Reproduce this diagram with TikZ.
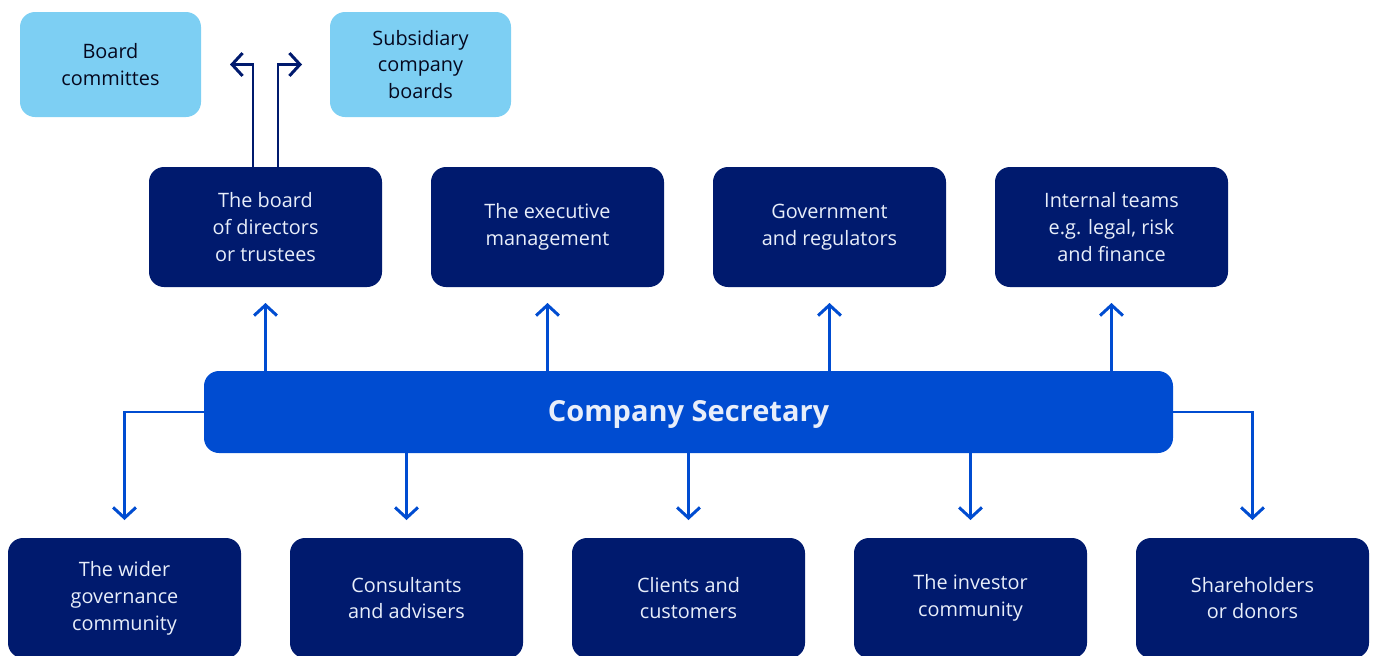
\documentclass[tikz,border=0pt]{standalone}
\usepackage{fontspec}
\setmainfont{Open Sans}
\usepackage{xcolor}
\usepackage{tikz}
\usetikzlibrary{arrows.meta, positioning}
\definecolor{navy}{RGB}{0,26,110}
\definecolor{secblue}{RGB}{0,76,209}
\definecolor{skyblue}{RGB}{125,207,243}
\definecolor{paletext}{RGB}{232,238,250}
\definecolor{inktext}{RGB}{5,8,30}
\tikzstyle{party} = [rectangle, rounded corners=0.3cm, fill=navy, text=paletext, text centered, align=center, outer sep=0pt, minimum width=4.66cm, minimum height=2.4cm, font=\fontsize{11.3}{15.3}\selectfont]
\tikzstyle{sub} = [rectangle, rounded corners=0.3cm, fill=skyblue, text=inktext, text centered, align=center, outer sep=0pt, minimum width=3.62cm, minimum height=2.1cm, font=\fontsize{11.3}{15.3}\selectfont]
\tikzstyle{secretary} = [rectangle, rounded corners=0.3cm, fill=secblue, text=paletext, outer sep=0pt, minimum width=19.38cm, minimum height=1.64cm, text depth=0.05cm, font=\fontsize{16.5}{18}\selectfont\bfseries]
\tikzstyle{arrow} = [line width=1.7pt, secblue, -{Straight Barb[length=6pt,width=13pt]}]
\tikzstyle{boardarrow} = [arrow, navy]

\begin{document}
\begin{tikzpicture}[node distance=0.98cm]
        \useasboundingbox (0,0) rectangle (27.5,-13.1);

        % Nodes - the secretary in the middle
        \node (sec) [secretary] at (13.77,-8.24) {Company Secretary};

        % Top row
        \node (board) [party] at (5.31,-4.54) {The board\\of directors\\or trustees};
        \node (exec) [party, right=of board] {The executive\\management};
        \node (gov) [party, right=of exec] {Government\\and regulators};
        \node (internal) [party, right=of gov] {Internal teams\\e.g. legal, risk\\and finance};

        % Board offshoots
        \node (committees) [sub] at (2.21,-1.29) {Board\\committes};
        \node (subsid) [sub, right=2.58cm of committees] {Subsidiary\\company\\boards};

        % Bottom row
        \node (wider) [party] at (2.49,-11.96) {The wider\\governance\\community};
        \node (consult) [party, right=of wider] {Consultants\\and advisers};
        \node (clients) [party, right=of consult] {Clients and\\customers};
        \node (investor) [party, right=of clients] {The investor\\community};
        \node (holders) [party, right=of investor] {Shareholders\\or donors};

        % Arrows - up to the top row
        \draw [arrow, shorten >=0.32cm] (board.south |- sec.north) -- (board.south);
        \draw [arrow, shorten >=0.32cm] (exec.south |- sec.north) -- (exec.south);
        \draw [arrow, shorten >=0.32cm] (gov.south |- sec.north) -- (gov.south);
        \draw [arrow, shorten >=0.32cm] (internal.south |- sec.north) -- (internal.south);

        % Arrows - down to the bottom row
        \draw [arrow, shorten >=0.36cm] (sec.west) -| (wider.north);
        \draw [arrow, shorten >=0.36cm] (consult.north |- sec.south) -- (consult.north);
        \draw [arrow, shorten >=0.36cm] (clients.north |- sec.south) -- (clients.north);
        \draw [arrow, shorten >=0.36cm] (investor.north |- sec.south) -- (investor.north);
        \draw [arrow, shorten >=0.36cm] (sec.east) -| (holders.north);

        % Arrows - from the board out to committees and subsidiaries
        \draw [boardarrow, shorten >=0.58cm] ([xshift=-0.25cm]board.north) |- (committees.east);
        \draw [boardarrow, shorten >=0.56cm] ([xshift=0.25cm]board.north) |- (subsid.west);

    \end{tikzpicture}
\end{document}
